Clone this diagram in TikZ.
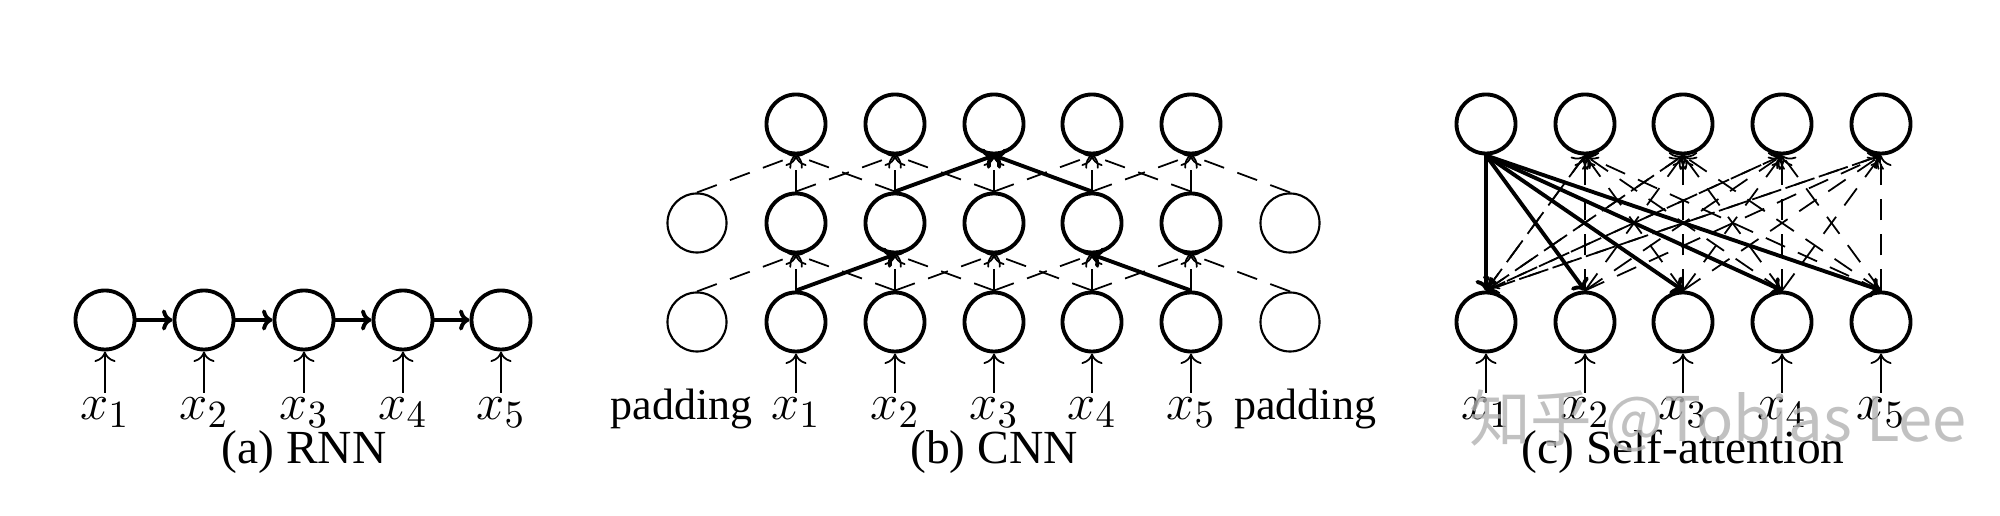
\documentclass[tikz,border=0pt]{standalone}
\usepackage{fontspec}
\setmainfont{Liberation Serif}
\newfontfamily\cjk{Noto Sans CJK SC}
\usetikzlibrary{arrows.meta}
\begin{document}
\begin{tikzpicture}[x=0.01cm,y=-0.01cm,
  nd/.style={circle,draw,line width=1.1pt,minimum size=0.59cm,inner sep=0pt},
  pad/.style={circle,draw,line width=0.6pt,minimum size=0.59cm,inner sep=0pt},
  lab/.style={font=\fontsize{15}{17}\selectfont,anchor=base},
  padtxt/.style={font=\fontsize{12.5}{14}\selectfont},
  captxt/.style={font=\fontsize{13.5}{16}\selectfont,anchor=base},
  inp/.style={-{To[length=3pt,width=6pt]},line width=0.5pt},
  da/.style={-{To[length=3pt,width=6pt]},dashed,dash pattern=on 6pt off 4pt,line width=0.5pt},
  so/.style={-{To[length=3pt,width=6pt]},line width=1.1pt}]
\useasboundingbox (0,0) rectangle (2000,516);
% (a) RNN
\foreach \i/\x in {1/105,2/204,3/304,4/403,5/501}{
  \node[nd] (r\i) at (\x,320) {};
  \node[lab] (rx\i) at (\x,420) {$x_{\i}$};
  \draw[inp] (\x,393) -- (r\i.south);
}
\foreach \i/\j in {1/2,2/3,3/4,4/5}{\draw[so] (r\i) -- (r\j);}
\node[captxt] (capa) at (304,464) {(a) RNN};
% (b) CNN
\foreach \i/\x in {0/697,1/796,2/895,3/994,4/1092,5/1191,6/1290}{
  \ifnum\i=0 \node[pad] (b\i) at (\x,322) {}; \node[pad] (m\i) at (\x,223) {};
  \else\ifnum\i=6 \node[pad] (b\i) at (\x,322) {}; \node[pad] (m\i) at (\x,223) {};
  \else
    \node[nd] (b\i) at (\x,322) {}; \node[nd] (m\i) at (\x,223) {}; \node[nd] (t\i) at (\x,124) {};
    \node[lab] (cx\i) at (\x,420) {$x_{\i}$};
    \draw[inp] (\x,393) -- (b\i.south);
  \fi\fi
}
\node[padtxt,anchor=base east] (pl) at (765,420) {padding};
\node[padtxt,anchor=base west] (pr) at (1222,420) {padding};
\foreach \i in {1,...,5}{
  \pgfmathtruncatemacro\a{\i-1}\pgfmathtruncatemacro\c{\i+1}
  \foreach \k in {\a,\i,\c}{
    \draw[da] (b\k.north) -- (m\i.south);
    \draw[da] (m\k.north) -- (t\i.south);
  }
}
\draw[so] (b1.north) -- (m2.south);
\draw[so] (m2.north) -- (t3.south);
\draw[so] (m4.north) -- (t3.south);
\draw[so] (b5.north) -- (m4.south);
\node[captxt] (capb) at (994,464) {(b) CNN};
% (c) Self-attention
\foreach \i/\x in {1/1486,2/1585,3/1683,4/1782,5/1881}{
  \node[nd] (sb\i) at (\x,322) {};
  \node[nd] (st\i) at (\x,124) {};
  \node[lab] (sx\i) at (\x,420) {$x_{\i}$};
  \draw[inp] (\x,393) -- (sb\i.south);
}
\foreach \i in {1,...,5}{\foreach \j in {2,...,5}{\draw[da] (sb\i.north) -- (st\j.south);}}
\foreach \j in {2,...,5}{\draw[da] (st\j.south) -- (sb1.north);}
\foreach \j in {1,...,5}{\draw[so] (st1.south) -- (sb\j.north);}
\node[captxt] (capc) at (1683,464) {(c) Self-attention};
\node[font=\fontsize{17.5}{20}\selectfont\cjk,text=black!30,opacity=0.8,anchor=base] (wm) at (1718,442) {知乎 @Tobias Lee};
\end{tikzpicture}
\end{document}
